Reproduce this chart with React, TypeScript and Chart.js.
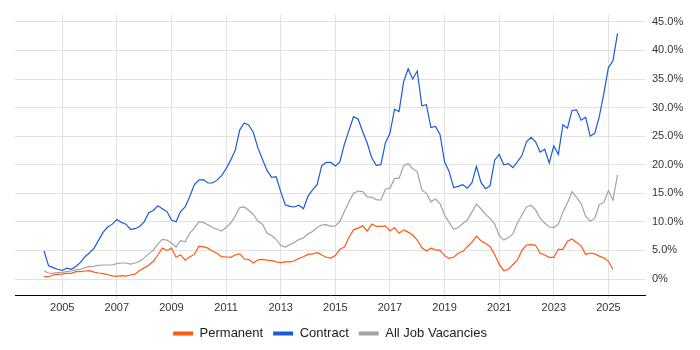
import { useEffect, useRef } from "react";
import { Chart, registerables } from "chart.js";

Chart.register(...registerables);

const FONT = "'Liberation Sans', Arial, Helvetica, sans-serif";

// Bi-monthly samples starting May 2004 (step of 2 months)
const START_YEAR = 2004 + 4 / 12;
const STEP_MONTHS = 2;

const contract: (number | null)[] = [
  4.9, 2.3, 2.0, 1.7,
  1.5, 1.9, 1.7, 2.2, 2.9, 3.9,
  4.6, 5.4, 6.8, 8.2, 9.1, 9.6,
  10.4, 9.9, 9.6, 8.7, 8.8, 9.2,
  10.0, 11.6, 12.0, 12.8, 12.3, 11.8,
  10.3, 10.0, 11.8, 12.6, 14.4, 16.5,
  17.3, 17.4, 16.8, 16.8, 17.3, 18.1,
  19.3, 20.8, 22.5, 26.1, 27.3, 26.9,
  25.6, 22.9, 20.9, 19.0, 17.8, 17.9,
  15.3, 13.0, 12.7, 12.6, 12.9, 12.3,
  14.5, 15.6, 16.5, 19.8, 20.4, 20.4,
  19.8, 20.5, 23.6, 26.0, 28.4, 28.0,
  25.8, 23.8, 21.2, 19.9, 20.0, 23.8,
  25.5, 29.7, 29.3, 34.5, 36.8, 35.0,
  36.4, 30.3, 30.5, 26.5, 26.7, 25.3,
  20.5, 18.8, 16.0, 16.2, 16.5, 15.9,
  16.8, 19.7, 16.9, 15.8, 16.3, 20.8,
  21.8, 20.0, 20.2, 19.5, 20.5, 21.6,
  24.0, 24.8, 24.0, 22.2, 22.7, 20.3,
  23.3, 21.8, 27.0, 26.4, 29.5, 29.6,
  27.8, 28.3, 25.0, 25.5, 28.4, 32.5,
  37.0, 38.2, 43.0,
];

const permanent: (number | null)[] = [
  0.4, 0.4, 0.7, 0.8,
  0.85, 1.0, 1.0, 1.3, 1.3, 1.4,
  1.45, 1.2, 1.05, 0.95, 0.75, 0.55,
  0.45, 0.6, 0.5, 0.7, 0.85, 1.5,
  1.95, 2.4, 3.1, 4.2, 5.4, 5.0,
  5.4, 3.8, 4.25, 3.3, 3.85, 4.3,
  5.7, 5.65, 5.4, 4.9, 4.5, 3.9,
  3.85, 3.8, 4.2, 4.4, 3.5, 3.4,
  2.8, 3.35, 3.45, 3.3, 3.2, 3.0,
  2.85, 3.0, 3.0, 3.2, 3.6, 3.9,
  4.3, 4.4, 4.6, 4.2, 3.8, 3.65,
  4.1, 5.2, 5.6, 7.3, 8.6, 8.9,
  9.3, 8.4, 9.6, 9.2, 9.2, 9.3,
  8.4, 9.0, 8.0, 8.6, 8.2, 7.7,
  6.8, 5.5, 4.9, 5.4, 5.1, 5.0,
  4.1, 3.6, 3.8, 4.5, 4.8, 5.65,
  6.4, 7.5, 6.7, 6.2, 5.7, 4.3,
  2.6, 1.45, 1.7, 2.5, 3.3, 5.0,
  5.95, 6.0, 5.9, 4.5, 4.2, 3.8,
  3.8, 5.2, 5.2, 6.6, 7.0, 6.4,
  5.8, 4.3, 4.55, 4.4, 4.0, 3.7,
  3.1, 1.7, null,
];

const allJobs: (number | null)[] = [
  1.4, 1.05, 1.0, 1.1,
  1.15, 1.3, 1.4, 1.6, 1.7, 2.0,
  2.15, 2.2, 2.4, 2.45, 2.45, 2.45,
  2.7, 2.8, 2.8, 2.6, 2.8, 3.1,
  3.7, 4.4, 5.0, 6.1, 6.95, 6.8,
  6.3, 5.6, 6.7, 6.5, 8.0, 8.9,
  10.0, 9.9, 9.5, 9.0, 8.7, 8.4,
  9.0, 9.8, 11.0, 12.5, 12.6, 12.0,
  11.3, 10.1, 9.6, 8.0, 7.6, 6.9,
  5.9, 5.6, 6.0, 6.4, 6.9, 7.2,
  7.9, 8.3, 9.0, 9.45, 9.5, 9.2,
  9.3, 10.1, 11.8, 13.5, 15.0, 15.4,
  15.3, 14.4, 14.3, 13.9, 13.8, 15.7,
  15.9, 17.6, 17.6, 19.8, 20.2, 19.3,
  18.8, 15.6, 15.0, 13.5, 14.0, 13.2,
  11.2, 9.9, 8.7, 9.0, 9.7, 10.3,
  11.7, 13.1, 12.3, 11.3, 10.6, 9.6,
  7.6, 6.8, 7.2, 7.9, 9.8, 11.2,
  12.6, 12.9, 12.1, 10.6, 9.8, 9.1,
  9.0, 9.6, 11.7, 13.3, 15.3, 14.3,
  13.2, 11.0, 10.1, 10.6, 13.0, 13.4,
  15.5, 13.8, 18.2,
];

const xTickYears = [2005, 2007, 2009, 2011, 2013, 2015, 2017, 2019, 2021, 2023, 2025];
const yTickValues = [0, 5, 10, 15, 20, 25, 30, 35, 40, 45];

const seriesNames = ["Permanent", "Contract", "All Job Vacancies"];
const seriesColors = ["#ff5a14", "#1a5bdc", "#a3a3a3"];

const dates = contract.map((_, i) => START_YEAR + (i * STEP_MONTHS) / 12);

export default function App() {
  const ref = useRef<HTMLCanvasElement>(null);

  useEffect(() => {
    const toPoints = (vals: (number | null)[]) =>
      vals.map((v, i) => ({ x: dates[i], y: v }));
    const seriesValues = [permanent, contract, allJobs];

    const chart = new Chart(ref.current as HTMLCanvasElement, {
      type: "line",
      data: {
        datasets: seriesValues.map((vals, k) => ({
          label: seriesNames[k],
          data: toPoints(vals) as any,
          borderColor: seriesColors[k],
          backgroundColor: seriesColors[k],
          borderWidth: 1.2,
          pointRadius: 0,
          tension: 0,
          fill: false,
          spanGaps: false,
        })),
      },
      options: {
        animation: false,
        responsive: false,
        maintainAspectRatio: false,
        layout: { padding: { left: 15, top: 15, right: 0, bottom: 0 } },
        scales: {
          x: {
            type: "linear",
            min: 2003.27,
            max: 2026.34,
            afterBuildTicks: (s: any) => {
              s.ticks = xTickYears.map((v) => ({ value: v }));
            },
            afterFit: (s: any) => {
              s.height = 22;
            },
            ticks: {
              autoSkip: false,
              maxRotation: 0,
              padding: 2,
              color: "#333",
              font: { family: FONT, size: 11 },
              callback: (v: any) => String(v),
            },
            grid: { color: "#e2e2e2", lineWidth: 1, tickLength: 4 },
            border: { color: "#000", width: 1 },
          },
          y: {
            position: "right",
            min: -2.8,
            max: 46.2,
            afterBuildTicks: (s: any) => {
              s.ticks = yTickValues.map((v) => ({ value: v }));
            },
            afterFit: (s: any) => {
              s.width = 55;
            },
            ticks: {
              padding: 7,
              color: "#333",
              font: { family: FONT, size: 11 },
              callback: (v: any) => (v === 0 ? "0%" : Number(v).toFixed(1) + "%"),
            },
            grid: { color: "#e2e2e2", lineWidth: 1, drawTicks: false },
            border: { display: false },
          },
        },
        plugins: {
          legend: {
            position: "bottom",
            fullSize: false,
            labels: {
              boxWidth: 20,
              boxHeight: 4,
              padding: 10,
              color: "#222",
              font: { family: FONT, size: 13 },
              generateLabels: (c: any) =>
                Chart.defaults.plugins.legend.labels
                  .generateLabels(c)
                  .map((l: any) => ({ ...l, fillStyle: l.strokeStyle, lineWidth: 0 })),
            },
          },
          tooltip: { enabled: false },
        },
      },
    });
    return () => chart.destroy();
  }, []);

  return (
    <div style={{ position: "fixed", left: 0, top: 0, width: 700, height: 350, background: "#fff" }}>
      <canvas ref={ref} width={700} height={350} style={{ display: "block" }} />
    </div>
  );
}
